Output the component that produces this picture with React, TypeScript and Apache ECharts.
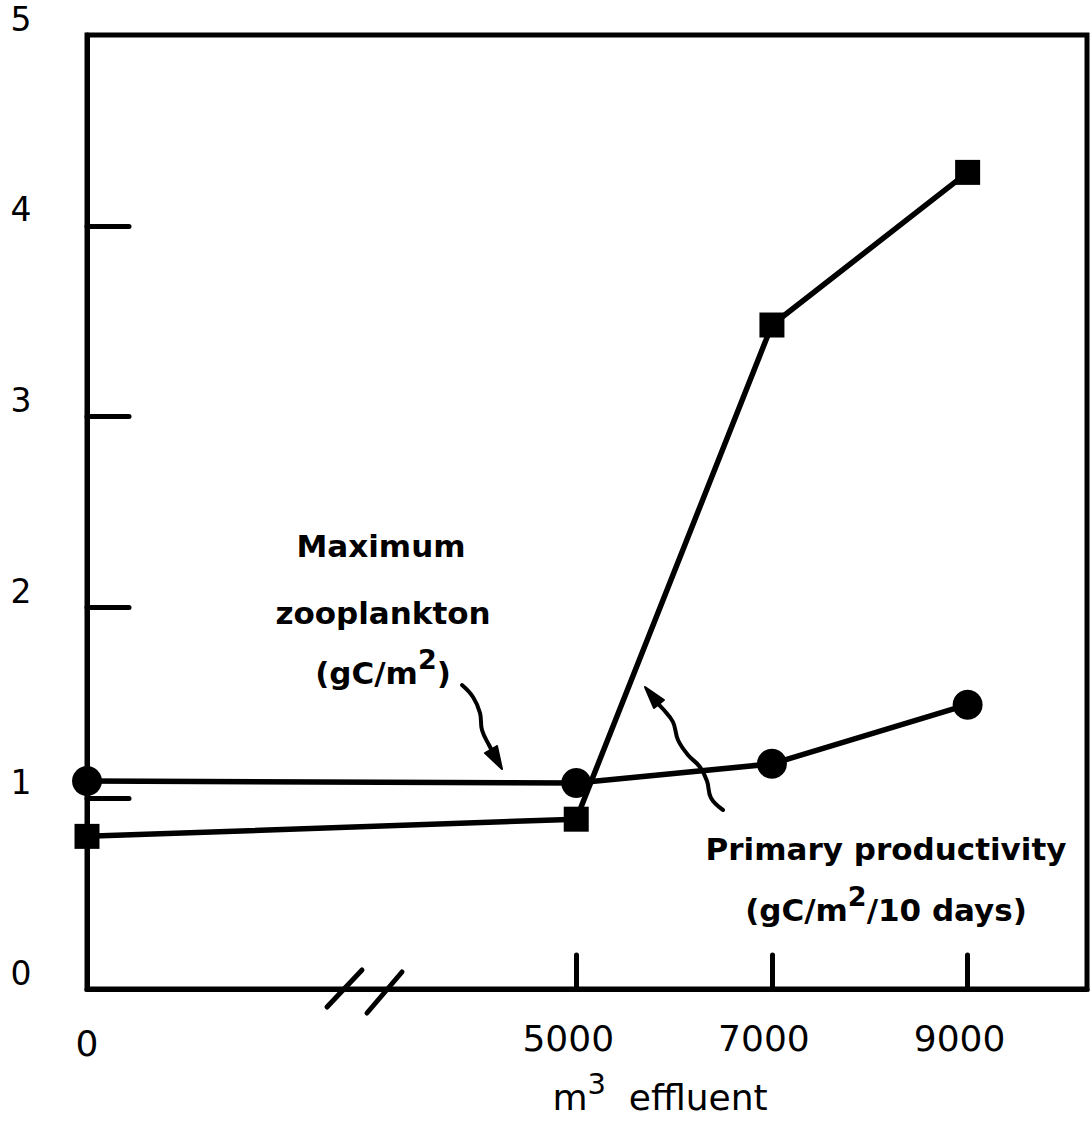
import React, { useEffect, useRef } from "react";
import * as echarts from "echarts";

// Effluent volume (m³) and the two measured responses
const effluent = [0, 5000, 7000, 9000];
const zooplankton = [1.09, 1.08, 1.18, 1.49]; // maximum zooplankton, gC/m²
const productivity = [0.8, 0.89, 3.48, 4.28]; // primary productivity, gC/m²/10 days

const yTickValues = [1, 2, 3, 4];
const yLabelValues = [0, 1, 2, 3, 4, 5];
const xTickValues = [5000, 7000, 9000];
const xLabelValues = [0, 5000, 7000, 9000];

const FONT = "'DejaVu Sans', 'Liberation Sans', sans-serif";
const INK = "#000";

export default function App() {
  const ref = useRef<HTMLDivElement>(null);

  useEffect(() => {
    if (!ref.current) return;
    const chart = echarts.init(ref.current, null, { renderer: "svg" });

    const zData = effluent.map((x, i) => [x, zooplankton[i]]);
    const pData = effluent.map((x, i) => [x, productivity[i]]);

    const labelText = (txt: string, y: number, x: number) => ({
      type: "text",
      x,
      y,
      z: 50,
      style: {
        text: txt,
        align: "center",
        verticalAlign: "middle",
        fill: INK,
        font: `bold 31px ${FONT}`,
        rich: {
          b: { fontFamily: FONT, fontWeight: "bold", fontSize: 31, lineHeight: 42, verticalAlign: "bottom", fill: INK },
          s: { fontFamily: FONT, fontWeight: "bold", fontSize: 27, lineHeight: 27, verticalAlign: "top", fill: INK },
        },
      },
    });

    chart.setOption({
      animation: false,
      backgroundColor: "#fff",
      grid: {
        left: 87,
        right: 5,
        top: 35,
        bottom: 134,
        show: true,
        borderColor: INK,
        borderWidth: 5,
        backgroundColor: "transparent",
        outerBoundsMode: "none",
      },
      xAxis: {
        type: "value",
        min: 0,
        max: 10220,
        splitLine: { show: false },
        axisLine: { show: true, onZero: false, lineStyle: { color: INK, width: 5 } },
        axisTick: {
          show: true,
          inside: true,
          length: 34,
          customValues: xTickValues,
          lineStyle: { color: INK, width: 5, cap: "round" },
        },
        axisLabel: {
          show: true,
          customValues: xLabelValues,
          margin: 31,
          formatter: (v: number) => (v === 0 ? `{z|${v}}` : `{n|${v}}`),
          rich: {
            z: { fontFamily: FONT, fontSize: 36, lineHeight: 36, color: INK, padding: [10, 0, 0, 0] },
            n: { fontFamily: FONT, fontSize: 36, lineHeight: 36, color: INK, padding: [0, 16, 0, 0] },
          },
        },
        name: "{a|m}{s|3}{a|  effluent}",
        nameLocation: "middle",
        nameGap: 80,
        nameTextStyle: {
          padding: [0, 0, 0, 146],
          rich: {
            a: { fontFamily: FONT, fontSize: 36, lineHeight: 46, verticalAlign: "bottom", color: INK },
            s: { fontFamily: FONT, fontSize: 29, lineHeight: 29, verticalAlign: "top", color: INK },
          },
        },
      },
      yAxis: {
        type: "value",
        min: 0,
        max: 5,
        interval: 1,
        splitLine: { show: false },
        axisLine: { show: true, onZero: false, lineStyle: { color: INK, width: 5 } },
        axisTick: {
          show: true,
          inside: true,
          length: 42,
          customValues: yTickValues,
          lineStyle: { color: INK, width: 5, cap: "round" },
        },
        axisLabel: {
          show: true,
          customValues: yLabelValues,
          margin: 66,
          align: "center",
          verticalAlign: "bottom",
          fontFamily: FONT,
          fontSize: 33,
          lineHeight: 32,
          color: INK,
        },
      },
      series: [
        {
          name: "Maximum zooplankton",
          type: "line",
          data: zData,
          clip: false,
          symbol: "circle",
          symbolSize: 30,
          lineStyle: { color: INK, width: 5.5 },
          itemStyle: { color: INK },
          z: 5,
        },
        {
          name: "Primary productivity",
          type: "line",
          data: pData,
          clip: false,
          symbol: "rect",
          symbolSize: 25,
          lineStyle: { color: INK, width: 5.5 },
          itemStyle: { color: INK },
          z: 5,
        },
      ],
      graphic: [
        // annotation labels
        labelText("Maximum", 546, 381),
        labelText("zooplankton", 613, 383),
        labelText("{b|(gC/m}{s|2}{b|)}", 667, 383),
        labelText("Primary productivity", 849, 886),
        labelText("{b|(gC/m}{s|2}{b|/10 days)}", 904, 886),
        // wavy pointer to the zooplankton line
        {
          type: "polyline",
          z: 50,
          shape: {
            points: [[462, 685], [473, 697], [480, 713], [482, 730], [489, 745], [494, 754]],
            smooth: 0.4,
          },
          style: { stroke: INK, lineWidth: 4, fill: null, lineCap: "round" },
        },
        {
          type: "polygon",
          z: 50,
          shape: { points: [[502, 769], [497, 746], [485, 753]] },
          style: { fill: INK, stroke: INK, lineWidth: 2, lineJoin: "round" },
        },
        // wavy pointer to the productivity line
        {
          type: "polyline",
          z: 50,
          shape: {
            points: [[723, 810], [711, 798], [707, 781], [700, 767], [688, 755], [678, 740], [673, 722], [663, 709], [656, 702]],
            smooth: 0.4,
          },
          style: { stroke: INK, lineWidth: 4, fill: null, lineCap: "round" },
        },
        {
          type: "polygon",
          z: 50,
          shape: { points: [[645, 687], [664, 700], [654, 708]] },
          style: { fill: INK, stroke: INK, lineWidth: 2, lineJoin: "round" },
        },
        // axis break marks
        {
          type: "line",
          z: 50,
          shape: { x1: 327, y1: 1007, x2: 362, y2: 970 },
          style: { stroke: INK, lineWidth: 5, lineCap: "round" },
        },
        {
          type: "line",
          z: 50,
          shape: { x1: 367, y1: 1013, x2: 402, y2: 972 },
          style: { stroke: INK, lineWidth: 5, lineCap: "round" },
        },
      ],
    });

    return () => chart.dispose();
  }, []);

  return (
    <div
      ref={ref}
      style={{ position: "fixed", left: 0, top: 0, width: 1092, height: 1123, background: "#fff" }}
    />
  );
}
